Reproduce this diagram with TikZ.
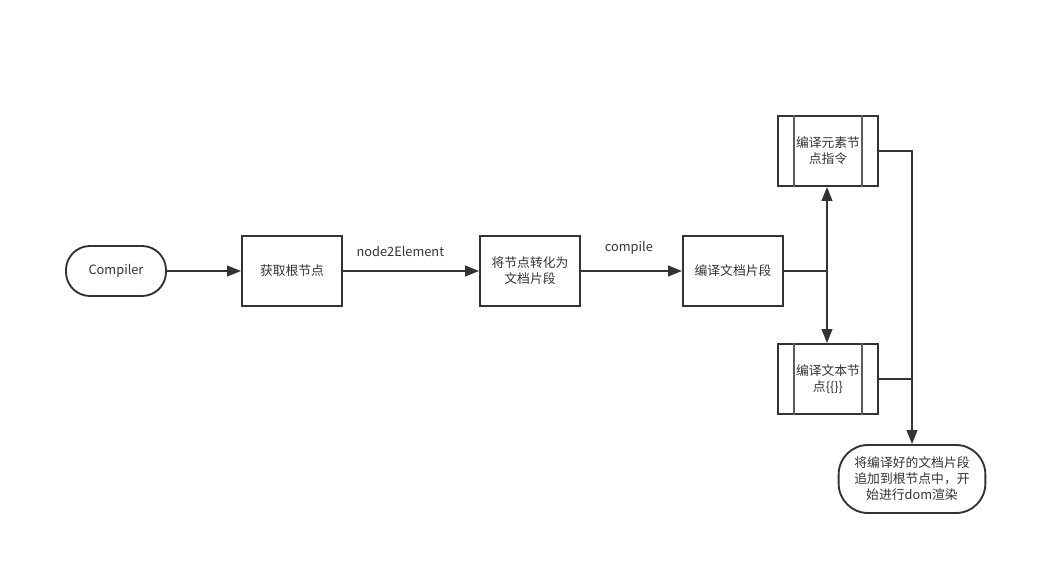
\documentclass[tikz,border=0pt]{standalone}
\usepackage{fontspec}
\setmainfont{Noto Sans CJK SC}
\usetikzlibrary{arrows.meta,positioning,calc}
\definecolor{ln}{HTML}{333333}
\tikzset{
  every node/.style={font=\fontsize{9.6}{12}\selectfont, text=ln},
  box/.style={draw=ln, line width=1.4pt, minimum width=75pt, minimum height=52.5pt, inner sep=0pt, align=center, fill=white},
  proc/.style={box, text width=50pt},
  term/.style={draw=ln, line width=1.4pt, rounded corners=18pt, inner sep=0pt, align=center, fill=white},
  conn/.style={draw=ln, line width=1.4pt},
  arr/.style={conn, -{Triangle[length=10.5pt,width=8pt]}},
  lbl/.style={inner sep=0pt},
}
\begin{document}
\begin{tikzpicture}[x=0.75pt,y=-0.75pt]
\useasboundingbox (0,0) rectangle (1048,575);
\node[term, minimum width=75pt, minimum height=37.5pt] (c) at (116,271) {Compiler};
\node[box] (a) at (292,271) {获取根节点};
\node[box, text width=70pt] (b) at (530,271) {将节点转化为\\文档片段};
\node[box] (d) at (733,271) {编译文档片段};
\node[proc] (e) at (828,151) {编译元素节\\点指令};
\node[proc] (f) at (828,379) {编译文本节\\点\{\{\}\}};
\foreach \n in {e,f}{
  \draw[draw=ln!80, line width=1.2pt] ($(\n.north west)+(17,0)$) -- ($(\n.south west)+(17,0)$);
  \draw[draw=ln!80, line width=1.2pt] ($(\n.north east)+(-17,0)$) -- ($(\n.south east)+(-17,0)$);
}
\node[term, minimum width=110pt, minimum height=51pt, rounded corners=22pt] (g) at (912,479) {将编译好的文档片段\\追加到根节点中，开\\始进行dom渲染};
\coordinate (j) at (827,271);
\coordinate (r) at (912,151);
\coordinate (r2) at (912,379);
\draw[arr] (c) -- (a);
\draw[arr] (a) -- node[lbl, above=10pt, xshift=-8pt] {node2Element} (b);
\draw[arr] (b) -- node[lbl, above=12pt, xshift=-2pt] {compile} (d);
\draw[conn] (d) -- (j);
\draw[arr] (j) -- (j |- e.south);
\draw[arr] (j) -- (j |- f.north);
\draw[arr] (e.east |- r) -- (r) -- (g.north);
\draw[conn] (f.east |- r2) -- (r2);
\end{tikzpicture}
\end{document}
